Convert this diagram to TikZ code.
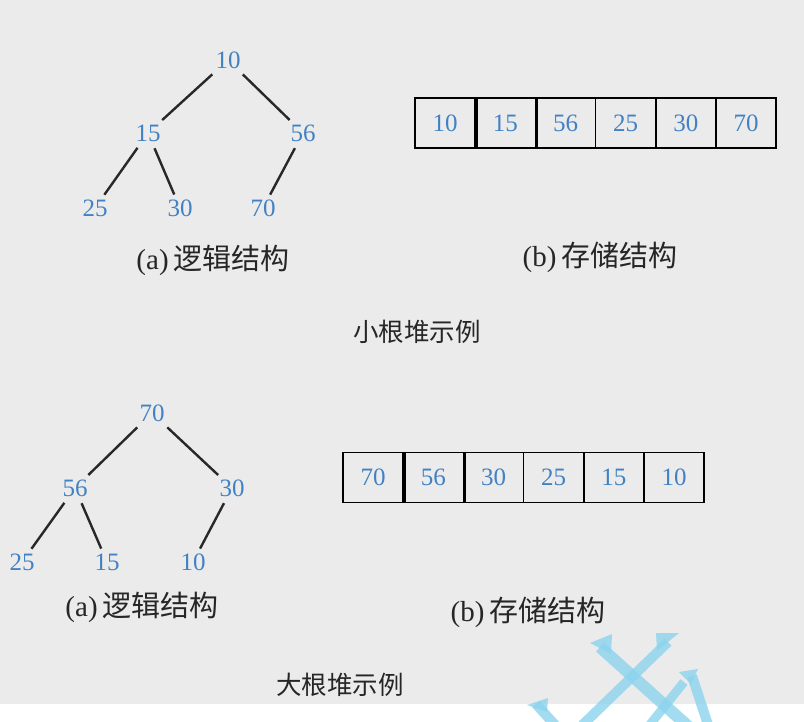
\documentclass[tikz,border=0pt]{standalone}
\usepackage{fontspec}
\setmainfont{Liberation Serif}
\newfontfamily\cjk{Noto Sans CJK SC}
\definecolor{bggray}{RGB}{235,235,235}
\definecolor{numblue}{RGB}{66,130,196}
\definecolor{edgegray}{RGB}{40,40,40}
\definecolor{wmblue}{RGB}{140,212,238}
\begin{document}
\begin{tikzpicture}[x=1pt,y=-1pt,
 num/.style={text=numblue,font=\fontsize{25}{25}\selectfont,inner sep=3pt},
 cell/.style={draw=black,line width=1.6pt,minimum width=60.2pt,minimum height=50pt,inner sep=0pt,text=numblue,font=\fontsize{25}{25}\selectfont},
 captxt/.style={text=black!85,font=\fontsize{29}{29}\selectfont,inner sep=0pt},
 ttl/.style={text=black!85,font=\cjk\fontsize{25.5}{25.5}\selectfont,inner sep=0pt},
 tedge/.style={draw=edgegray,line width=2.4pt,shorten <=4pt,shorten >=2pt},
 wm/.style={draw=wmblue,line width=11pt,opacity=0.8},
 wmh/.style={fill=wmblue,opacity=0.8}]
\useasboundingbox (0,0) rectangle (804,721);
\fill[bggray] (0,0) rectangle (804,704);
\fill[white] (0,704) rectangle (804,721);

% ---- small-root heap
\node[num] (t10) at (228,60) {10};
\node[num] (t15) at (148,133) {15};
\node[num] (t56) at (303,133) {56};
\node[num] (t25) at (95,208) {25};
\node[num] (t30) at (180,208) {30};
\node[num] (t70) at (263,208) {70};
\draw[tedge] (t10) -- (t15);
\draw[tedge] (t10) -- (t56);
\draw[tedge] (t15) -- (t25);
\draw[tedge] (t15) -- (t30);
\draw[tedge] (t56) -- (t70);

\node[cell] (a1) at (445.1,123) {10};
\node[cell] (a2) at (505.3,123) {15};
\node[cell] (a3) at (565.5,123) {56};
\node[cell] (a4) at (625.7,123) {25};
\node[cell] (a5) at (685.9,123) {30};
\node[cell] (a6) at (746.1,123) {70};
\draw[line width=3pt] (a1.north east) -- (a1.south east);
\draw[line width=3pt] (a2.north east) -- (a2.south east);

\node[captxt] (capa1) at (213,260) {(a)\,{\cjk 逻辑结构}};
\node[captxt] (capb1) at (600,257) {(b)\,{\cjk 存储结构}};
\node[ttl] (title1) at (417,332) {小根堆示例};

% ---- big-root heap
\node[num] (b70) at (152,413) {70};
\node[num] (b56) at (75,488) {56};
\node[num] (b30) at (232,488) {30};
\node[num] (b25) at (22,562) {25};
\node[num] (b15) at (107,562) {15};
\node[num] (b10) at (193,562) {10};
\draw[tedge] (b70) -- (b56);
\draw[tedge] (b70) -- (b30);
\draw[tedge] (b56) -- (b25);
\draw[tedge] (b56) -- (b15);
\draw[tedge] (b30) -- (b10);

\node[cell] (c1) at (373.1,477.5) {70};
\node[cell] (c2) at (433.3,477.5) {56};
\node[cell] (c3) at (493.5,477.5) {30};
\node[cell] (c4) at (553.7,477.5) {25};
\node[cell] (c5) at (613.9,477.5) {15};
\node[cell] (c6) at (674.1,477.5) {10};
\draw[line width=3pt] (c1.north east) -- (c1.south east);
\draw[line width=3pt] (c2.north east) -- (c2.south east);

\node[captxt] (capa2) at (142,607) {(a)\,{\cjk 逻辑结构}};
\node[captxt] (capb2) at (528,612) {(b)\,{\cjk 存储结构}};
\node[ttl] (title2) at (340,685) {大根堆示例};

% ---- watermark
\begin{scope}
\clip (0,0) rectangle (804,721);
\draw[wm,line width=12pt] (600,647) -- (700,737);
\fill[wmh] (590,643) -- (612,634) -- (611,654) -- cycle;
\draw[wm,line width=10pt] (668,642) -- (570,737);
\fill[wmh] (656,633) -- (679,633) -- (657,651) -- cycle;
\draw[wm,line width=10pt] (692,676) -- (712,737);
\draw[wm,line width=9pt] (684,682) -- (640,737);
\fill[wmh] (679,672) -- (698,669) -- (691,684) -- cycle;
\draw[wm,line width=10pt] (536,704) -- (566,737);
\fill[wmh] (527,705) -- (548,698) -- (547,712) -- cycle;
\end{scope}
\end{tikzpicture}
\end{document}
